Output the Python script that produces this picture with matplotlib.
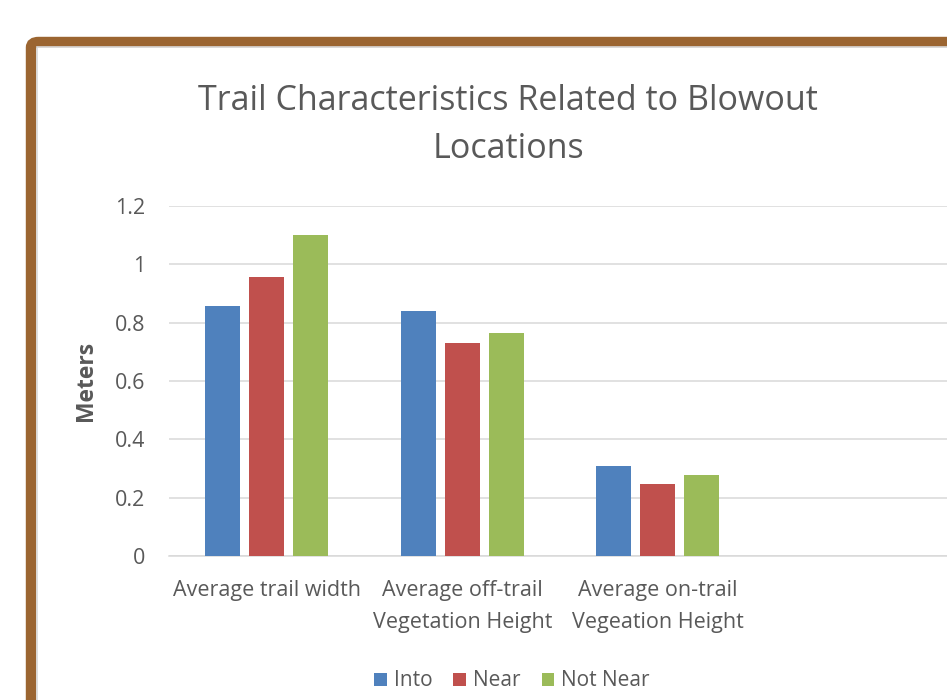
import matplotlib
import matplotlib.pyplot as plt
import numpy as np
from matplotlib.patches import FancyBboxPatch, Rectangle

matplotlib.use('Agg')

# data
categories = ['Average trail width', 'Average off-trail\nVegetation Height',
              'Average on-trail\nVegeation Height', '']
series_names = ['Into', 'Near', 'Not Near']
into = [0.857, 0.84, 0.31, np.nan]
near = [0.957, 0.73, 0.247, np.nan]
not_near = [1.10, 0.765, 0.278, np.nan]
colors = ['#4F81BD', '#C0504D', '#9BBB59']
yticks = [0, 0.2, 0.4, 0.6, 0.8, 1, 1.2]
ytick_labels = ['0', '0.2', '0.4', '0.6', '0.8', '1', '1.2']

plt.rcParams['font.family'] = ['Open Sans', 'DejaVu Sans']
text_color = '#595959'

fig = plt.figure(figsize=(9.47, 7), dpi=100)
fig.patch.set_facecolor('white')

# brown frame around the chart, running off the right and bottom edges
W, H = 947, 700
frame = FancyBboxPatch((31 / W, -0.1), 1.2, (700 - 42) / H + 0.1,
                       boxstyle='round,pad=0,rounding_size=0.008',
                       transform=fig.transFigure, facecolor='none',
                       edgecolor='#9B6531', linewidth=7.5, zorder=0)
fig.patches.append(frame)
inner = Rectangle((36.5 / W, -0.1), 1.2, (700 - 47.5) / H + 0.1,
                  transform=fig.transFigure, facecolor='none',
                  edgecolor='#D8D8D8', linewidth=1.2, zorder=0)
fig.patches.append(inner)

ax = fig.add_axes([169 / W, 144 / H, 782 / W, 350 / H])
x = np.arange(len(categories))
width = 0.179
offset = 0.225
for i, (vals, c, name) in enumerate(zip([into, near, not_near], colors, series_names)):
    ax.bar(x + (i - 1) * offset, vals, width, color=c, label=name, zorder=3)

ax.set_xlim(-0.5, len(categories) - 0.5)
ax.set_ylim(0, 1.2)
ax.set_yticks(yticks)
ax.set_yticklabels(ytick_labels)
ax.yaxis.grid(True, color='#D9D9D9', linewidth=1.1, zorder=0)
ax.set_axisbelow(True)
for s in ['top', 'right', 'left']:
    ax.spines[s].set_visible(False)
ax.spines['bottom'].set_color('#D9D9D9')
ax.spines['bottom'].set_linewidth(1.1)
ax.tick_params(axis='both', length=0, colors=text_color)
ax.tick_params(axis='y', pad=17, labelsize=15.5)
ax.tick_params(axis='x', pad=17, labelsize=15.5)
ax.set_xticks(x)
ax.set_xticklabels(categories, linespacing=1.72, va='top')

ax.set_ylabel('Meters', color=text_color, fontsize=16.5, fontweight='bold', labelpad=12)

fig.text(508 / W, 1 - 125 / H, 'Trail Characteristics Related to Blowout\nLocations',
         ha='center', va='center', fontsize=24.5, color=text_color, linespacing=1.55)

leg = fig.legend(loc='center', bbox_to_anchor=(512 / W, 1 - 681 / H), ncol=3,
                 frameon=False, fontsize=15, handlelength=0.6, handleheight=0.6,
                 handletextpad=0.35, columnspacing=1.0)
for t in leg.get_texts():
    t.set_color(text_color)

plt.savefig('out.png', dpi=100)
